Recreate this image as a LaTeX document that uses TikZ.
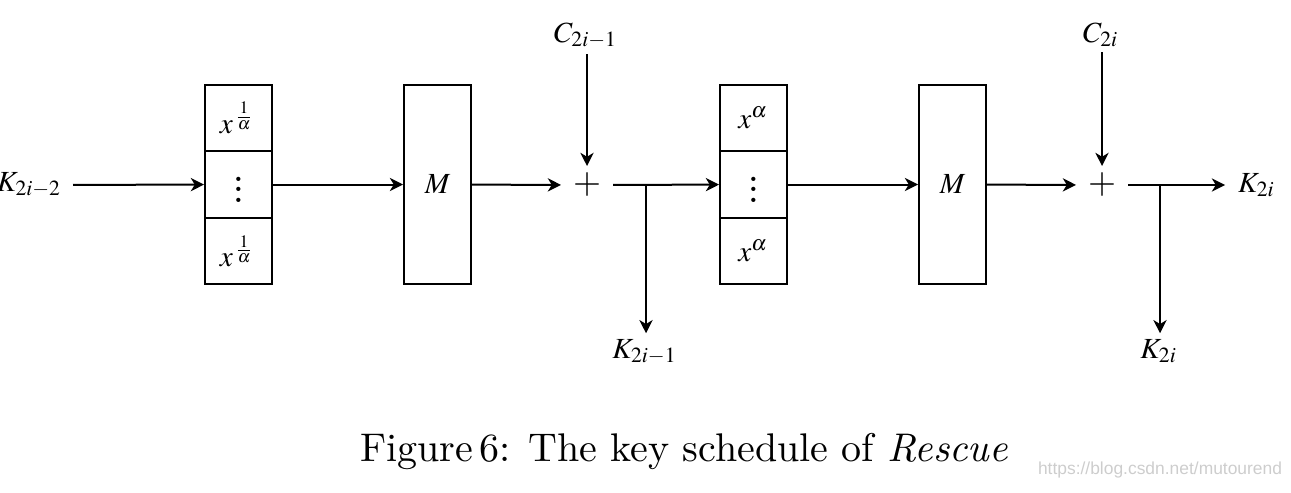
\documentclass[tikz,border=0pt]{standalone}
\usepackage{mathptmx}
\usepackage[no-math]{fontspec}
\renewcommand{\rmdefault}{lmr}
\renewcommand{\familydefault}{\rmdefault}
\newfontfamily\wmfont{Liberation Sans}
\usepackage{graphicx}
\usetikzlibrary{arrows.meta}
\newcommand\dfont{\fontsize{7.3}{9}\selectfont}
\newcommand\myvdots{{\fontsize{10}{12}\selectfont\vbox{\kern2.5pt\baselineskip=2.6pt\lineskiplimit=0pt\hbox{$.$}\hbox{$.$}\hbox{$.$}}}}
\definecolor{wmgray}{RGB}{205,205,205}
\begin{document}
\begin{tikzpicture}[x=0.25pt,y=-0.25pt,line width=0.5pt,
  >={Stealth[length=3.3pt,width=3.3pt,inset=1pt]},
  cell/.style={draw,minimum width=16.75pt,minimum height=16.6pt,inner sep=0pt,font=\dfont},
  mbox/.style={draw,minimum width=16.75pt,minimum height=49.75pt,inner sep=0pt,font=\dfont},
  lbl/.style={inner sep=1.2pt,font=\dfont},
  plus/.style={inner sep=0pt,minimum width=12.5pt,minimum height=9pt,font=\fontsize{9}{11}\selectfont},
  conn/.style={->}]
\useasboundingbox (0,0) rectangle (1291,492);
% first stack
\node[cell] (a1) at (238.5,118) {$x^{\frac{1}{\alpha}}$};
\node[cell] (a2) at (238.5,184.5) {\myvdots};
\node[cell] (a3) at (238.5,251) {$x^{\frac{1}{\alpha}}$};
\node[mbox] (m1) at (437.5,184.5) {$M$};
\node[plus] (p1) at (587,185) {$+$};
% second stack
\node[cell] (b1) at (753.5,118) {$x^{\alpha}$};
\node[cell] (b2) at (753.5,184.5) {\myvdots};
\node[cell] (b3) at (753.5,251) {$x^{\alpha}$};
\node[mbox] (m2) at (952.5,184.5) {$M$};
\node[plus] (p2) at (1102,185) {$+$};
% labels
\node[lbl,inner xsep=2.5pt,anchor=east] (k0) at (73,185) {$K_{2i-2}$};
\node[lbl,anchor=base] (c1) at (586,42) {$C_{2i-1}$};
\node[lbl,anchor=base] (c2) at (1101,42) {$C_{2i}$};
\node[lbl,anchor=base] (k1) at (645,358) {$K_{2i-1}$};
\node[lbl,anchor=base] (k3) at (1159,358) {$K_{2i}$};
\node[lbl,inner xsep=3pt,anchor=west] (k2) at (1225,185) {$K_{2i}$};
\coordinate (j1) at (646,185);
\coordinate (j2) at (1160,185);
% connectors
\draw[conn] (k0) -- (a2);
\draw[conn] (a2) -- (m1);
\draw[conn] (m1) -- (p1);
\draw[conn] (p1 |- c1.south) -- (p1);
\draw[conn] (p1) -- (b2);
\draw[conn] (j1) -- (j1 |- k1.north);
\draw[conn] (b2) -- (m2);
\draw[conn] (m2) -- (p2);
\draw[conn] (p2 |- c2.south) -- (p2);
\draw[conn] (p2) -- (k2);
\draw[conn] (j2) -- (j2 |- k3.north);
% caption
\node[inner sep=0pt,anchor=base,font=\fontsize{10}{12}\selectfont] (cap) at (684,461) {Figure\,6: The key schedule of \textit{Rescue}};
\node[inner sep=0pt,text=wmgray,font=\wmfont\fontsize{5}{6}\selectfont] (wm) at (1160,470) {\resizebox{61pt}{!}{https://blog.csdn.net/mutourend}};
\end{tikzpicture}
\end{document}
